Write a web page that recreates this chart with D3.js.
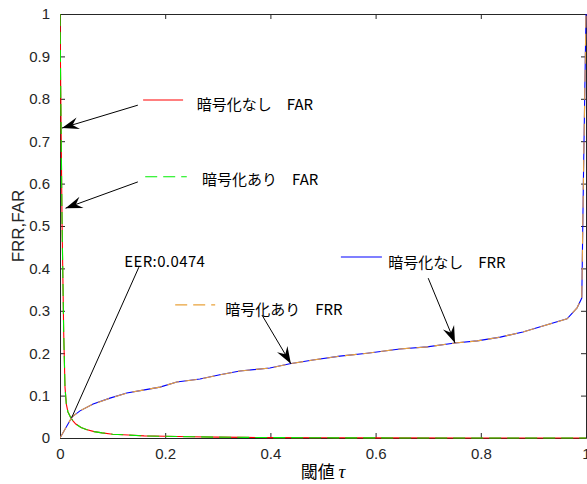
<!DOCTYPE html>
<html lang="ja">
<head>
<meta charset="UTF-8">
<title>FRR / FAR</title>
<script src="https://d3js.org/d3.v7.min.js"></script>
<style>
    body { margin: 0; background: #fff; }
    text { font-family: "Liberation Sans", Arial, sans-serif; fill: #262626; }
    .jp { font-family: "Noto Sans CJK JP", sans-serif; fill: #000; }
</style>
</head>
<body>
<svg id="chart" width="587" height="484"></svg>
<script>
// FAR curves (threshold tau -> rate)
const farTau   = [0, 0.002, 0.004, 0.007, 0.0095, 0.012, 0.015, 0.02, 0.025, 0.03, 0.04, 0.05, 0.065, 0.08, 0.1, 0.13, 0.16, 0.2, 0.25, 0.3, 0.35, 0.4, 0.5, 0.6, 0.8, 1];
const farPlain = [1, 0.74, 0.5, 0.25, 0.12, 0.08, 0.062, 0.049, 0.04, 0.033, 0.025, 0.02, 0.015, 0.012, 0.009, 0.007, 0.005, 0.004, 0.003, 0.002, 0.0015, 0.001, 0.0005, 0.0002, 0, 0];
const farEnc   = [1, 0.74, 0.5, 0.25, 0.12, 0.08, 0.062, 0.049, 0.04, 0.033, 0.025, 0.02, 0.015, 0.012, 0.009, 0.007, 0.005, 0.004, 0.003, 0.002, 0.0015, 0.001, 0.0005, 0.0002, 0, 0];

// FRR curves
const frrTau   = [0, 0.023, 0.038, 0.063, 0.095, 0.127, 0.158, 0.19, 0.222, 0.266, 0.304, 0.342, 0.399, 0.437, 0.481, 0.532, 0.584, 0.646, 0.698, 0.751, 0.793, 0.837, 0.88, 0.918, 0.964, 0.983, 0.992, 0.995, 1];
const frrPlain = [0, 0.05, 0.064, 0.08, 0.094, 0.106, 0.113, 0.12, 0.132, 0.139, 0.149, 0.158, 0.165, 0.175, 0.184, 0.193, 0.2, 0.21, 0.215, 0.224, 0.229, 0.238, 0.25, 0.264, 0.281, 0.307, 0.33, 0.6, 1];
const frrEnc   = [0, 0.05, 0.064, 0.08, 0.094, 0.106, 0.113, 0.12, 0.132, 0.139, 0.149, 0.158, 0.165, 0.175, 0.184, 0.193, 0.2, 0.21, 0.215, 0.224, 0.229, 0.238, 0.25, 0.264, 0.281, 0.307, 0.33, 0.6, 1];

const xTicks = [0, 0.2, 0.4, 0.6, 0.8, 1];
const yTicks = [0, 0.1, 0.2, 0.3, 0.4, 0.5, 0.6, 0.7, 0.8, 0.9, 1];
const xTickLabels = ["0", "0.2", "0.4", "0.6", "0.8", "1"];
const yTickLabels = ["0", "0.1", "0.2", "0.3", "0.4", "0.5", "0.6", "0.7", "0.8", "0.9", "1"];

const eerValue = 0.0474;
const eerTau = 0.022;

const svg = d3.select("#chart");
const margin = { left: 60, top: 14, right: 1, bottom: 46 };
const width = 587 - margin.left - margin.right;
const height = 484 - margin.top - margin.bottom;

const x = d3.scaleLinear().domain([0, 1]).range([margin.left, margin.left + width]);
const y = d3.scaleLinear().domain([0, 1]).range([margin.top + height, margin.top]);

svg.append("defs").append("clipPath").attr("id", "plotclip")
    .append("rect")
    .attr("x", margin.left).attr("y", margin.top - 1)
    .attr("width", width + 1).attr("height", height + 2);

svg.select("defs").append("marker")
    .attr("id", "head")
    .attr("markerUnits", "userSpaceOnUse")
    .attr("viewBox", "-18 -7 19 14")
    .attr("refX", 0).attr("refY", 0)
    .attr("markerWidth", 19).attr("markerHeight", 14)
    .attr("orient", "auto")
    .append("path")
    .attr("d", "M0,0 L-17,-6 L-11,0 L-17,6 Z")
    .attr("fill", "#000");

// axes (ticks inward, box on)
const axisColor = "#262626";
const frame = svg.append("g");

frame.append("g")
    .attr("transform", `translate(0,${margin.top + height})`)
    .call(d3.axisBottom(x).tickValues(xTicks).tickSizeInner(-5).tickSizeOuter(0)
        .tickFormat((d, i) => xTickLabels[i]).tickPadding(10));
frame.append("g")
    .attr("transform", `translate(0,${margin.top})`)
    .call(d3.axisTop(x).tickValues(xTicks).tickSizeInner(-5).tickSizeOuter(0).tickFormat(""));
frame.append("g")
    .attr("transform", `translate(${margin.left},0)`)
    .call(d3.axisLeft(y).tickValues(yTicks).tickSizeInner(-5).tickSizeOuter(0)
        .tickFormat((d, i) => yTickLabels[i]).tickPadding(10));
frame.append("g")
    .attr("transform", `translate(${margin.left + width},0)`)
    .call(d3.axisRight(y).tickValues(yTicks).tickSizeInner(-5).tickSizeOuter(0).tickFormat(""));

frame.selectAll(".domain, .tick line").attr("stroke", axisColor);
frame.selectAll(".tick text")
    .style("font-family", "'Liberation Sans', Arial, sans-serif")
    .style("font-size", "15px")
    .attr("fill", axisColor);

// curves
const plot = svg.append("g").attr("clip-path", "url(#plotclip)");
const line = d3.line().x(d => x(d[0])).y(d => y(d[1]));

const series = [
    { tau: farTau, vals: farPlain, color: "#ff0000", dash: null },
    { tau: farTau, vals: farEnc,   color: "#00ee00", dash: "12,6" },
    { tau: frrTau, vals: frrPlain, color: "#0000ff", dash: null },
    { tau: frrTau, vals: frrEnc,   color: "#e9a23b", dash: "12,6" }
];

plot.selectAll("path.curve")
    .data(series)
    .enter().append("path")
    .attr("class", "curve")
    .attr("fill", "none")
    .attr("stroke", d => d.color)
    .attr("stroke-width", 1.1)
    .attr("stroke-dasharray", d => d.dash)
    .attr("d", d => line(d.tau.map((t, i) => [t, d.vals[i]])));

// annotations (data coordinates)
const notes = [
    { label: "暗号化なし　FAR", color: "#ff0000", dash: null,  tail: [0.148, 0.785], tip: [0.0038, 0.731], seg: [0.158, 0.234, 0.797], pos: [0.26, 0.785] },
    { label: "暗号化あり　FAR", color: "#00ee00", dash: "12,6", tail: [0.148, 0.604], tip: [0.0105, 0.542], seg: [0.162, 0.241, 0.616], pos: [0.27, 0.608] },
    { label: "暗号化なし　FRR", color: "#0000ff", dash: null,  tail: [0.70, 0.377],  tip: [0.751, 0.224],  seg: [0.534, 0.612, 0.427], pos: [0.624, 0.413] },
    { label: "暗号化あり　FRR", color: "#e9a23b", dash: "12,6", tail: [0.384, 0.29],  tip: [0.439, 0.175],  seg: [0.219, 0.295, 0.314], pos: [0.314, 0.302] }
];

const ann = svg.append("g");
notes.forEach(n => {
    ann.append("line")
        .attr("x1", x(n.seg[0])).attr("x2", x(n.seg[1]))
        .attr("y1", y(n.seg[2])).attr("y2", y(n.seg[2]))
        .attr("stroke", n.color).attr("stroke-width", 1.1)
        .attr("stroke-dasharray", n.dash);
    ann.append("line")
        .attr("x1", x(n.tail[0])).attr("y1", y(n.tail[1]))
        .attr("x2", x(n.tip[0])).attr("y2", y(n.tip[1]))
        .attr("stroke", "#000").attr("stroke-width", 1)
        .attr("marker-end", "url(#head)");
    ann.append("text")
        .attr("class", "jp")
        .attr("x", x(n.pos[0])).attr("y", y(n.pos[1]) + 5)
        .attr("xml:space", "preserve")
        .style("font-size", "15px")
        .text(n.label);
});

// EER line + label
ann.append("line")
    .attr("x1", x(0.15)).attr("y1", y(0.403))
    .attr("x2", x(eerTau)).attr("y2", y(eerValue))
    .attr("stroke", "#000").attr("stroke-width", 1);
ann.append("text")
    .attr("class", "jp")
    .attr("x", x(0.122)).attr("y", y(0.415) + 5)
    .style("font-size", "15px")
    .style("letter-spacing", "0.4px")
    .text("EER:" + eerValue);

// axis titles
svg.append("text")
    .attr("class", "jp")
    .attr("x", x(0.5)).attr("y", 478)
    .attr("text-anchor", "middle")
    .style("font-size", "17px")
    .attr("fill", "#262626")
    .html('閾値 <tspan font-style="italic" font-family="Liberation Serif, serif" font-size="19px">τ</tspan>');

svg.append("text")
    .attr("transform", `translate(24,${y(0.5)}) rotate(-90)`)
    .attr("text-anchor", "middle")
    .style("font-size", "17px")
    .text("FRR,FAR");
</script>
</body>
</html>
